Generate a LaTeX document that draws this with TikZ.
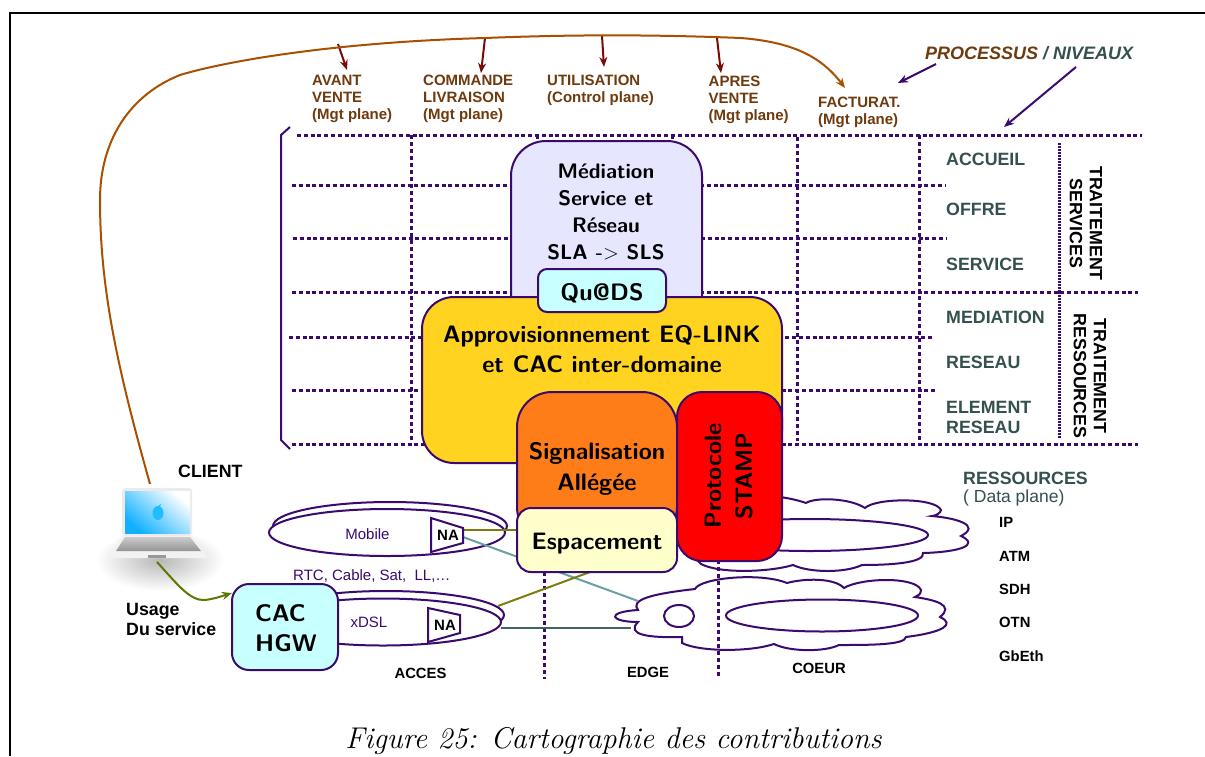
\documentclass[tikz,border=0pt]{standalone}
\usepackage{fontspec}
\usetikzlibrary{arrows.meta}
\newfontfamily\lib{Liberation Sans}
\definecolor{pur}{HTML}{3A0A6E}
\definecolor{brn}{HTML}{6E3A0E}
\definecolor{brl}{HTML}{A85000}
\definecolor{drd}{HTML}{780A0A}
\definecolor{slt}{HTML}{34504F}
\definecolor{oli}{HTML}{7C7C10}
\definecolor{tea}{HTML}{6AA0A0}
\definecolor{dgr}{HTML}{3F6464}
\definecolor{grn}{HTML}{5C7A00}
\definecolor{scr}{HTML}{10B0FF}
\definecolor{apl}{HTML}{20BEFF}
\newcommand{\fs}[2]{\fontsize{#1}{#2}\selectfont}
\tikzset{
  gridh/.style={pur,line width=3pt,dash pattern=on 4pt off 2.8pt},
  gridv/.style={pur,line width=3pt,dash pattern=on 3.5pt off 3.5pt},
  gridd/.style={pur,line width=3pt,dash pattern=on 1.5pt off 1.5pt},
  box/.style={draw=pur,line width=2pt,inner sep=0pt,outer sep=0pt},
  cl/.style={draw=pur,line width=2pt,fill=white},
  head/.style={anchor=west,align=left,text=brn,font=\lib\bfseries\fs{15}{17}},
  lev/.style={anchor=west,align=left,text=slt,font=\lib\bfseries\fs{17.8}{20}},
  blk/.style={anchor=west,align=left,text=black,font=\lib\bfseries\fs{17.8}{20}},
  plane/.style={anchor=west,text=black,font=\lib\bfseries\fs{14.8}{15}},
  rot/.style={rotate=-90,align=center,text=black,font=\lib\bfseries\fs{17.8}{20}},
  bt/.style={align=center,text=black,font=\sffamily\bfseries\fs{23.8}{30}},
  pl/.style={text=pur,font=\lib\fs{15}{17}},
  darr/.style={drd,line width=2pt,-{Stealth[length=10pt,width=8pt]}},
  parr/.style={pur,line width=2pt,-{Stealth[length=10pt,width=8pt]}},
  natx/.style={text=black,inner sep=0pt,font=\lib\bfseries\fs{15}{17}},
  bot/.style={inner sep=0pt,font=\lib\bfseries\fs{14.8}{15}},
}
\begin{document}
\begin{tikzpicture}[x=1pt,y=-1pt]
\useasboundingbox (0,0) rectangle (1205,756);
\fill[white] (0,0) rectangle (1205,756);
\draw[black,line width=2pt] (9.5,756) -- (9.5,13) -- (1205,13);
% bracket
\draw[pur,line width=2pt] (290,127) -- (281,135) -- (281,440) -- (290,449);
% grid
\draw[gridh] (297,135.5) -- (1142,135.5);
\draw[gridh] (292,185.5) -- (945,185.5);
\draw[gridh] (293,238.5) -- (947,238.5);
\draw[gridh] (292,292.5) -- (1138,292.5);
\draw[gridh] (289,337.5) -- (934,337.5);
\draw[gridh] (292,390.5) -- (936,390.5);
\draw[gridh] (292,444.5) -- (1138,444.5);
\draw[gridv] (411.5,135) -- (411.5,441);
\draw[gridv] (797.5,137) -- (797.5,441);
\draw[gridv] (919.5,135) -- (919.5,441);
\draw[gridv] (537.5,135) -- (537.5,150);
\draw[gridv] (672.5,135) -- (672.5,150);
\draw[gridd] (1059.5,143) -- (1059.5,292);
\draw[gridd] (1059.5,292) -- (1059.5,438);
\draw[gridv] (544.5,572) -- (544.5,679);
% clouds
\draw[cl] (700,510) .. controls (720,492) and (775,492) .. (806,503)
  .. controls (815,497) and (850,498) .. (865,508)
  .. controls (875,498) and (935,497) .. (941,510)
  .. controls (941,513) and (935,516) .. (932,516)
  .. controls (955,518) and (982,525) .. (961,536)
  .. controls (980,545) and (960,552) .. (923,553)
  .. controls (925,563) and (890,565) .. (862,565)
  .. controls (845,573) and (810,573) .. (793,565)
  .. controls (770,572) and (720,574) .. (701,564)
  .. controls (690,555) and (690,530) .. (700,510) -- cycle;
\draw[pur,line width=2pt,fill=white] (810,535) ellipse (118 and 16);
\draw[cl] (638,610) .. controls (630,600) and (650,594) .. (695,589)
  .. controls (700,578) and (760,572) .. (787,583)
  .. controls (805,578) and (835,578) .. (844,588)
  .. controls (860,578) and (915,576) .. (921,590)
  .. controls (921,594) and (918,596) .. (915,597)
  .. controls (935,600) and (955,605) .. (940,617)
  .. controls (955,624) and (945,632) .. (906,637)
  .. controls (905,645) and (870,645) .. (839,645)
  .. controls (825,652) and (790,652) .. (774,644)
  .. controls (750,652) and (700,652) .. (682,643)
  -- (682,637)
  .. controls (650,638) and (625,635) .. (638,622)
  .. controls (610,622) and (605,612) .. (638,610) -- cycle;
\draw[gridv] (718.5,560) -- (718.5,676);
\draw[pur,line width=2pt] (679,616) ellipse (15 and 11);
\draw[pur,line width=2pt,fill=white] (822,615.5) ellipse (96 and 16);
% access ellipses
\draw[cl] (390,526) ellipse (117 and 24);
\draw[cl] (387,532.5) ellipse (118 and 23.5);
\draw[cl] (386,615) ellipse (118 and 24);
\draw[cl] (383,622) ellipse (118 and 23.5);
% named ends
\coordinate (mobR) at (463,530);
\coordinate (mobT) at (463,537);
\coordinate (dslU) at (498,606);
\coordinate (dslL) at (501,628);
\coordinate (espW) at (517,530);
\coordinate (espS) at (590,572);
\coordinate (cldA) at (638,601);
\coordinate (cldB) at (631,628);
\draw[dgr,line width=2.2pt] (dslL) -- (cldB);
\draw[tea,line width=2pt] (mobT) -- (cldA);
\draw[oli,line width=2pt] (mobR) -- (espW);
\draw[oli,line width=2pt] (dslU) -- (espS);
% NA
\draw[box,fill=white] (431,518) -- (463,528) -- (463,543) -- (431,552) -- cycle;
\node[natx] (na1) at (448,535) {NA};
\draw[box,fill=white] (428,608) -- (460,615) -- (460,633) -- (428,642) -- cycle;
\node[natx] (na2) at (445,625) {NA};
\node[pl] (mob) at (367.5,534) {Mobile};
\node[pl] (xdsl) at (369,622) {xDSL};
\node[pl,anchor=west,inner sep=0pt] (rtc) at (293,576) {RTC, Cable, Sat,\ \ LL,\dots};
% boxes
\node[box,fill={rgb,255:red,230;green,230;blue,255},rounded corners=35pt,minimum width=191pt,minimum height=200pt] (med) at (606.5,241) {};
\node[bt,font=\sffamily\bfseries\fs{21}{27}] (medt) at (606,211.5) {Médiation\\Service et\\Réseau\\SLA -$>$ SLS};
\node[box,fill={rgb,255:red,255;green,211;blue,32},rounded corners=32pt,minimum width=360pt,minimum height=166pt] (app) at (602,380) {};
\node[bt] (appt) at (602,349) {Approvisionnement EQ-LINK\\et CAC inter-domaine};
\node[box,fill={rgb,255:red,200;green,255;blue,255},rounded corners=9pt,minimum width=128pt,minimum height=43pt] (qu) at (602,290.5) {};
\node[bt] (qut) at (602,293) {Qu@DS};
\node[box,fill={rgb,255:red,255;green,125;blue,24},rounded corners=35pt,minimum width=160pt,minimum height=150pt] (sig) at (597,467) {};
\node[bt,font=\sffamily\bfseries\fs{23.8}{31}] (sigt) at (597,468.5) {Signalisation\\Allégée};
\node[box,fill={rgb,255:red,255;green,255;blue,204},rounded corners=14pt,minimum width=160pt,minimum height=64pt] (esp) at (597,540) {};
\node[bt] (espt) at (597,543.5) {Espacement};
\node[box,fill=red,rounded corners=25pt,minimum width=105pt,minimum height=169pt] (sta) at (729.5,476.5) {};
\node[rotate=90,align=center,text=black,font=\sffamily\bfseries\fs{23.7}{31}] (stat) at (729,476) {Protocole\\STAMP};
\node[box,fill={rgb,255:red,200;green,255;blue,255},rounded corners=17pt,minimum width=106pt,minimum height=86pt] (cac) at (285,627) {};
\node[anchor=west,align=left,text=black,inner sep=0pt,font=\sffamily\bfseries\fs{24}{30}] (cact) at (255,628) {CAC\\HGW};
% laptop
\shade[inner color=black!28,outer color=white] (160,560) ellipse (64 and 31);
\fill[black!8,rounded corners=3pt] (122,488) rectangle (192,536);
\shade[top color=white,bottom color=scr,shading angle=-40] (125,491) rectangle (190,533);
\fill[apl] (158,513) ellipse (5.5 and 7);
\fill[apl] (158,506) -- (161,504) -- (160,507) -- cycle;
\fill[black!5] (122,536) -- (192,536) -- (208,558) -- (107,558) -- cycle;
\shade[top color=black!20,bottom color=black!42] (125,537) -- (190,537) -- (201,551) -- (116,551) -- cycle;
\fill[black!40] (148,555) rectangle (166,558);
\coordinate (lapT) at (150,484);
\coordinate (lapB) at (157,562);
% top curve
\coordinate (fact) at (845,88);
\coordinate (c1) at (338,44);
\coordinate (c2) at (485,38);
\coordinate (c3) at (602,36);
\coordinate (c4) at (717,38);
\coordinate (h1) at (347,70);
\coordinate (h2) at (481,73);
\coordinate (h3) at (604,67);
\coordinate (h4) at (721,73);
\draw[darr] (c1) -- (h1);
\draw[darr] (c2) -- (h2);
\draw[darr] (c3) -- (h3);
\draw[darr] (c4) -- (h4);
\draw[brl,line width=2pt,-{Stealth[length=10pt,width=8pt]}] (lapT) .. controls (118,370) and (100,290) .. (100,200)
  .. controls (100,140) and (130,95) .. (180,75)
  .. controls (230,60) and (340,42) .. (c2) .. controls (560,35) and (640,34) .. (741,38)
  .. controls (790,42) and (820,55) .. (fact);
\coordinate (usgE) at (232,593);
\draw[grn,line width=2pt,-{Stealth[length=10pt,width=8pt]}] (lapB) .. controls (178,585) and (190,601) .. (205,600) .. controls (214,599) and (222,596) .. (usgE);
\coordinate (p1s) at (936,64);
\coordinate (p1e) at (898,83);
\coordinate (p2s) at (1076,67);
\coordinate (p2e) at (1004,127);
\draw[parr] (p1s) -- (p1e);
\draw[parr] (p2s) -- (p2e);
% headers
\node[head,inner sep=0pt] (h-av) at (312,98.5) {AVANT\\VENTE\\(Mgt plane)};
\node[head,inner sep=0pt] (h-co) at (423,98.5) {COMMANDE\\LIVRAISON\\(Mgt plane)};
\node[head,inner sep=0pt] (h-ut) at (547,90) {UTILISATION\\(Control plane)};
\node[head,inner sep=0pt] (h-ap) at (708.5,99.5) {APRES\\VENTE\\(Mgt plane)};
\node[head,inner sep=0pt] (h-fa) at (818,112.5) {FACTURAT.\\(Mgt plane)};
\node[anchor=west,inner sep=0pt,font=\lib\bfseries\itshape\fs{18}{20}] (pn) at (925,53) {\textcolor{brn}{PROCESSUS} \textcolor{slt}{/ NIVEAUX}};
% levels
\node[lev,inner sep=0pt] (l1) at (946,159) {ACCUEIL};
\node[lev,inner sep=0pt] (l2) at (946,209.5) {OFFRE};
\node[lev,inner sep=0pt] (l3) at (946,264) {SERVICE};
\node[lev,inner sep=0pt] (l4) at (946,317) {MEDIATION};
\node[lev,inner sep=0pt] (l5) at (946,362) {RESEAU};
\node[lev,inner sep=0pt] (l6) at (946,417) {ELEMENT\\RESEAU};
\node[rot,inner sep=0pt] (t1) at (1086,223.5) {TRAITEMENT\\SERVICES};
\node[rot,inner sep=0pt] (t2) at (1090,376) {TRAITEMENT\\RESSOURCES};
% bottom labels
\node[blk,inner sep=0pt] (cli) at (178,471) {CLIENT};
\node[blk,inner sep=0pt] (usg) at (126,619) {Usage\\Du service};
\node[bot] (acc) at (420.5,673) {ACCES};
\node[bot] (edg) at (648,672) {EDGE};
\node[bot] (coe) at (819,668) {COEUR};
\node[anchor=west,inner sep=0pt,text=slt,font=\lib\bfseries\fs{17.8}{20}] (res) at (963,478) {RESSOURCES};
\node[anchor=west,inner sep=0pt,text=slt,font=\lib\fs{17.5}{20}] (dat) at (963,498) {( Data plane)};
\node[plane,inner sep=0pt] (p1) at (999,522.5) {IP};
\node[plane,inner sep=0pt] (p2) at (999,556) {ATM};
\node[plane,inner sep=0pt] (p3) at (999,589) {SDH};
\node[plane,inner sep=0pt] (p4) at (999,622) {OTN};
\node[plane,inner sep=0pt] (p5) at (999,656) {GbEth};
\node[inner sep=0pt,text=black,font=\itshape\fs{30}{32}] (cap) at (613.5,740.5) {Figure 25: Cartographie des contributions};
\end{tikzpicture}
\end{document}
